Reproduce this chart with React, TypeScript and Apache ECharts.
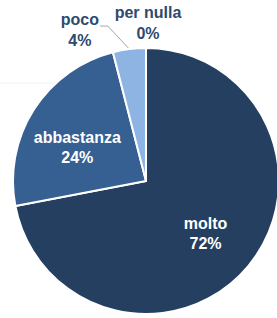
import React, { useEffect, useRef } from "react";
import * as echarts from "echarts";

const categories = ["molto", "abbastanza", "poco", "per nulla"];
const values = [72, 24, 4, 0];
const percentLabels = ["72%", "24%", "4%", "0%"];
const colors = ["#243F60", "#366092", "#8DB4E2", "#8DB4E2"];

const CX = 146;
const CY = 181;
const R = 133;

export default function App() {
  const ref = useRef<HTMLDivElement>(null);

  useEffect(() => {
    if (!ref.current) return;
    const chart = echarts.init(ref.current, null, { renderer: "svg" });
    const font = "'Liberation Sans', Arial, sans-serif";
    const data = categories.map((name, i) => {
      const inside = i < 2;
      return {
        name,
        value: values[i],
        itemStyle: { color: colors[i] },
        label: {
          show: true,
          position: inside ? "inside" : "outside",
          formatter: () => `${name}\n${percentLabels[i]}`,
          color: inside ? "#FFFFFF" : "#2E4A6F",
          fontSize: 16,
          fontWeight: "bold",
          fontFamily: font,
          lineHeight: inside ? 20 : 21,
          align: "center",
        },
        labelLine: {
          show: i === 2,
          lineStyle: { color: "#A6A6A6", width: 1 },
        },
      };
    });

    chart.setOption({
      animation: false,
      backgroundColor: "#FFFFFF",
      graphic: [
        {
          type: "line",
          shape: { x1: 0, y1: 83, x2: 62, y2: 83 },
          style: { stroke: "#F1F2F4", lineWidth: 1 },
          silent: true,
        },
      ],
      series: [
        {
          type: "pie",
          center: [CX, CY],
          radius: [0, R],
          startAngle: 90,
          clockwise: true,
          avoidLabelOverlap: false,
          minShowLabelAngle: 0,
          itemStyle: { borderColor: "#FFFFFF", borderWidth: 2 },
          labelLine: { length: 10, length2: 8, smooth: false },
          emphasis: { disabled: true },
          data,
          labelLayout: (params: any) => {
            const i = params.dataIndex;
            if (i === 0) return { dx: 6, dy: 8 };
            if (i === 1) return { dx: -10, dy: 4 };
            if (i === 2) {
              const pts = params.labelLinePoints;
              if (!pts) return {};
              const p0 = pts[0];
              const p1 = [p0[0] - 21.5, p0[1] - 23];
              const p2 = [p1[0] - 7.7, p1[1]];
              return {
                x: p2[0] - 20.3,
                y: p2[1] + 4.3,
                align: "center",
                verticalAlign: "middle",
                labelLinePoints: [p0, p1, p2],
              };
            }
            return {
              x: CX + 2,
              y: CY - R - 25,
              align: "center",
              verticalAlign: "middle",
            };
          },
        },
      ],
    });
    return () => chart.dispose();
  }, []);

  return (
    <div
      ref={ref}
      style={{ position: "fixed", left: 0, top: 0, width: 277, height: 318 }}
    />
  );
}
